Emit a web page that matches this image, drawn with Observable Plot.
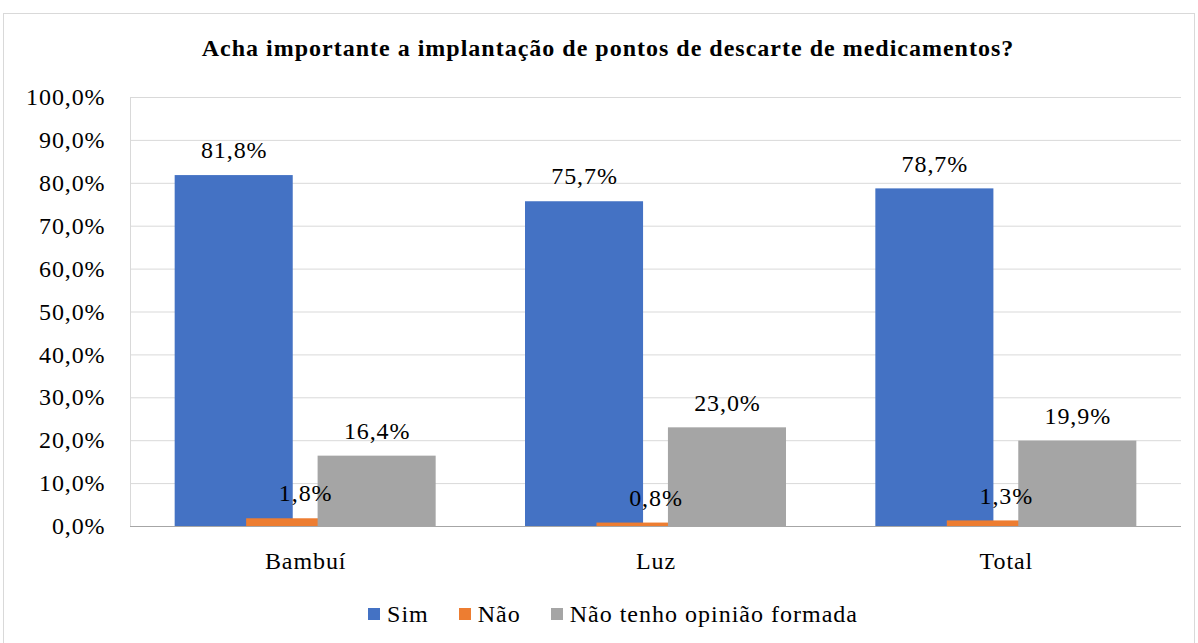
<!DOCTYPE html>
<html>
<head>
<meta charset="utf-8">
<script src="https://cdn.jsdelivr.net/npm/d3@7"></script>
<script src="https://cdn.jsdelivr.net/npm/@observablehq/plot@0.6"></script>
<style>
  html, body { margin: 0; padding: 0; background: #fff; }
  body { width: 1198px; height: 643px; position: relative; overflow: hidden; font-family: "Liberation Serif", "Times New Roman", serif; }
  #frame { position: absolute; left: 3px; top: 13px; width: 1192px; height: 640px; border: 1px solid #d9d9d9; box-sizing: border-box; }
  #title { position: absolute; left: 0; top: 34px; width: 1216px; text-align: center; font-weight: bold; font-size: 24px; line-height: 28px; letter-spacing: 1px; color: #000; font-family: "Liberation Serif", "Times New Roman", serif; }
  #chart { position: absolute; left: 0; top: 70px; }
  #legend { position: absolute; left: 0; top: 600px; width: 1226px; display: flex; justify-content: center; font-size: 24px; line-height: 28px; letter-spacing: 1px; color: #000; font-family: "Liberation Serif", "Times New Roman", serif; }
  .item { display: flex; align-items: center; margin: 0 15px; }
  .sw { width: 12px; height: 12px; margin-right: 7px; }
</style>
</head>
<body>
<div id="frame"></div>
<div id="title">Acha importante a implantação de pontos de descarte de medicamentos?</div>
<div id="chart"></div>
<div id="legend"></div>
<script>
const categories = ["Bambuí", "Luz", "Total"];
const seriesNames = ["Sim", "Não", "Não tenho opinião formada"];
const sim = [81.8, 75.7, 78.7];
const nao = [1.8, 0.8, 1.3];
const semOpiniao = [16.4, 23.0, 19.9];
const colors = ["#4472C4", "#ED7D31", "#A5A5A5"];
const yTicks = [0, 10, 20, 30, 40, 50, 60, 70, 80, 90, 100];

const seriesValues = [sim, nao, semOpiniao];
const step = 0.204;   // offset between series within a category (bars overlap)
const half = 0.1685;  // half bar width in category units
const rows = [];
seriesValues.forEach((vals, si) => {
  vals.forEach((v, ci) => {
    const c = ci + 0.5 + (si - 1) * step;
    rows.push({series: seriesNames[si], cat: categories[ci], value: v, c, x1: c - half, x2: c + half});
  });
});

const fmt = v => v.toFixed(1).replace(".", ",") + "%";
const font = "Liberation Serif, Times New Roman, serif";

const plot = Plot.plot({
  width: 1198,
  height: 506,
  marginLeft: 130,
  marginRight: 17,
  marginTop: 27,
  marginBottom: 50,
  style: {fontFamily: font, fontSize: "24px", color: "#000", background: "transparent", letterSpacing: "0.9px"},
  x: {type: "linear", domain: [0, categories.length], axis: null},
  y: {domain: [0, 100], axis: null},
  color: {domain: seriesNames, range: colors},
  marks: [
    Plot.ruleY(yTicks.filter(d => d > 0), {stroke: "#d9d9d9", strokeWidth: 1}),
    Plot.ruleX([0], {y1: 0, y2: 100, stroke: "#d9d9d9"}),
    Plot.rectY(rows, {x1: "x1", x2: "x2", y1: 0, y2: "value", fill: "series"}),
    Plot.ruleY([0], {stroke: "#a6a6a6", strokeWidth: 1.2}),
    Plot.text(rows, {x: "c", y: "value", text: d => fmt(d.value), dy: -25, fontSize: 24, fontFamily: font, fill: "#000", textAnchor: "middle"}),
    Plot.axisY({ticks: yTicks, tickFormat: fmt, tickSize: 0, tickPadding: 25, fontSize: 24, fontFamily: font, fill: "#000", label: null}),
    Plot.axisX({ticks: categories.map((d, i) => i + 0.5), tickFormat: (d) => categories[Math.round(d - 0.5)], tickSize: 0, tickPadding: 25, fontSize: 24, fontFamily: font, fill: "#000", label: null})
  ]
});
document.getElementById("chart").appendChild(plot);

const legend = document.getElementById("legend");
seriesNames.forEach((s, i) => {
  const it = document.createElement("div");
  it.className = "item";
  const sw = document.createElement("div");
  sw.className = "sw";
  sw.style.background = colors[i];
  const t = document.createElement("span");
  t.textContent = s;
  it.appendChild(sw);
  it.appendChild(t);
  legend.appendChild(it);
});
</script>
</body>
</html>
